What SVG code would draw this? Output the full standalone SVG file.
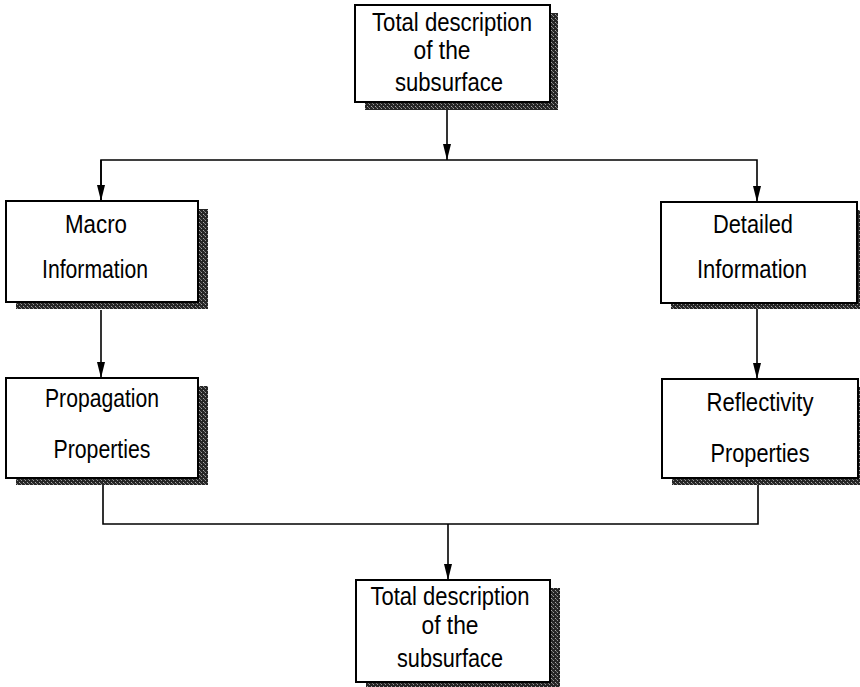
<svg xmlns="http://www.w3.org/2000/svg" width="860" height="687" viewBox="0 0 860 687">
  <style>
    .box { fill: #ffffff; stroke: #000000; stroke-width: 2; }
    .shadow { fill: url(#stipple); }
    .lbl { font-family: "Liberation Sans", Arial, Helvetica, sans-serif; font-size: 25px; fill: #000000; text-anchor: middle; }
    .wire { fill: none; stroke: #000000; stroke-width: 1.6; }
  </style>
  <defs>
    <pattern id="stipple" width="4" height="4" patternUnits="userSpaceOnUse">
      <rect width="4" height="4" fill="#262626"/>
      <rect x="1" y="0" width="1" height="1" fill="#9a9a9a"/>
      <rect x="3" y="2" width="1" height="1" fill="#a8a8a8"/>
      <rect x="0" y="3" width="1" height="1" fill="#707070"/>
    </pattern>
    <marker id="arrow" markerUnits="userSpaceOnUse" markerWidth="16" markerHeight="8" refX="16" refY="4" orient="auto">
      <path d="M0,0 L16,4 L0,8 z" fill="#000000"/>
    </marker>
  </defs>
  <rect width="860" height="687" fill="#ffffff"/>

  <g id="connectors">
    <path class="wire" d="M447,102 V160" marker-end="url(#arrow)"/>
    <path class="wire" d="M101,201 V160 H757 V202" marker-end="url(#arrow)"/>
    <path class="wire" d="M101,160 V201" marker-end="url(#arrow)"/>
    <path class="wire" d="M101,310 V378" marker-end="url(#arrow)"/>
    <path class="wire" d="M757,309 V379" marker-end="url(#arrow)"/>
    <path class="wire" d="M103,485 V524 H758 V485"/>
    <path class="wire" d="M448,524 V580" marker-end="url(#arrow)"/>
  </g>

  <g id="top-total">
    <rect class="shadow" x="365" y="13" width="193" height="97"/>
    <rect class="box" x="355" y="5" width="195" height="97"/>
    <text class="lbl" x="452" y="31" textLength="160" lengthAdjust="spacingAndGlyphs">Total description</text>
    <text class="lbl" x="442" y="59" textLength="57" lengthAdjust="spacingAndGlyphs">of the</text>
    <text class="lbl" x="449" y="91" textLength="108" lengthAdjust="spacingAndGlyphs">subsurface</text>
  </g>

  <g id="macro">
    <rect class="shadow" x="16" y="209" width="192" height="100"/>
    <rect class="box" x="6" y="201" width="192" height="101"/>
    <text class="lbl" x="96" y="233" textLength="62" lengthAdjust="spacingAndGlyphs">Macro</text>
    <text class="lbl" x="95" y="278" textLength="106" lengthAdjust="spacingAndGlyphs">Information</text>
  </g>

  <g id="propagation">
    <rect class="shadow" x="16" y="386" width="192" height="99"/>
    <rect class="box" x="6" y="378" width="192" height="100"/>
    <text class="lbl" x="102" y="407" textLength="114" lengthAdjust="spacingAndGlyphs">Propagation</text>
    <text class="lbl" x="102" y="458" textLength="97" lengthAdjust="spacingAndGlyphs">Properties</text>
  </g>

  <g id="detailed">
    <rect class="shadow" x="671" y="210" width="196" height="99"/>
    <rect class="box" x="661" y="202" width="196" height="101"/>
    <text class="lbl" x="753" y="233" textLength="80" lengthAdjust="spacingAndGlyphs">Detailed</text>
    <text class="lbl" x="752" y="278" textLength="110" lengthAdjust="spacingAndGlyphs">Information</text>
  </g>

  <g id="reflectivity">
    <rect class="shadow" x="672" y="387" width="196" height="98"/>
    <rect class="box" x="662" y="379" width="196" height="99"/>
    <text class="lbl" x="760" y="411" textLength="107" lengthAdjust="spacingAndGlyphs">Reflectivity</text>
    <text class="lbl" x="760" y="462" textLength="99" lengthAdjust="spacingAndGlyphs">Properties</text>
  </g>

  <g id="bottom-total">
    <rect class="shadow" x="366" y="588" width="194" height="99"/>
    <rect class="box" x="356" y="580" width="194" height="102"/>
    <text class="lbl" x="450" y="605" textLength="159" lengthAdjust="spacingAndGlyphs">Total description</text>
    <text class="lbl" x="450" y="634" textLength="57" lengthAdjust="spacingAndGlyphs">of the</text>
    <text class="lbl" x="450" y="667" textLength="106" lengthAdjust="spacingAndGlyphs">subsurface</text>
  </g>
</svg>
